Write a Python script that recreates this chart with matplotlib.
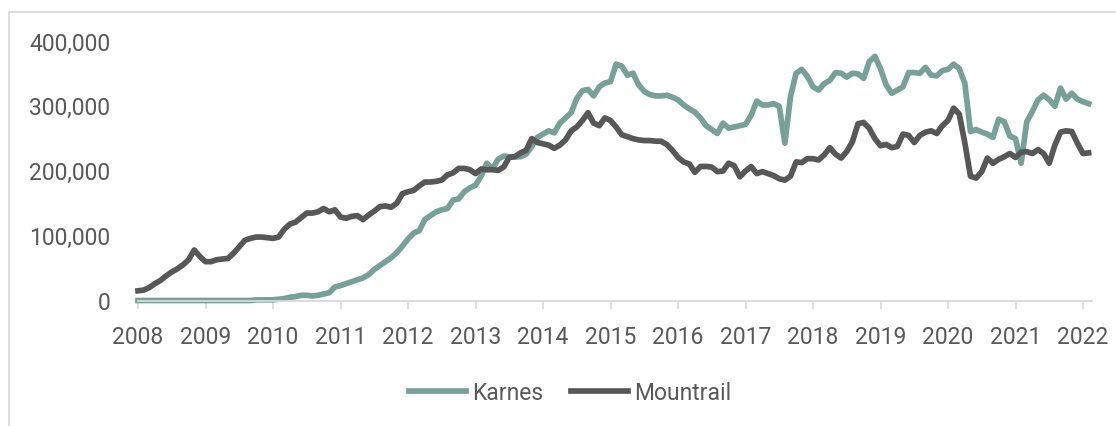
import numpy as np
import matplotlib
matplotlib.use("Agg")
import matplotlib.pyplot as plt
from matplotlib.patches import Rectangle
from matplotlib.ticker import FuncFormatter

plt.rcParams["font.family"] = ["Roboto", "DejaVu Sans"]

# monthly values, thousands of units, Jan 2008 .. Feb 2022
karnes = [
    0, 0, 0, 0, 0, 0, 0, 0, 0, 0, 0, 0,
    0, 0, 0, 0, 0, 0, 0, 0, 0, 1, 1, 1,
    1, 2, 3, 5, 6, 8, 8, 7, 8, 10, 12, 21,
    23, 26, 29, 32, 35, 40, 48, 54, 60, 66, 74, 84,
    95, 104, 108, 125, 131, 137, 140, 142, 155, 157, 168, 174,
    178, 192, 212, 203, 218, 223, 222, 222, 222, 226, 238, 252,
    257, 262, 259, 274, 282, 290, 312, 324, 326, 316, 330, 336,
    338, 365, 362, 348, 351, 333, 323, 318, 316, 316, 317, 314,
    310, 302, 296, 291, 282, 270, 264, 258, 274, 266, 268, 270,
    272, 286, 308, 302, 302, 304, 300, 243, 315, 351, 357, 346,
    330, 325, 335, 340, 352, 351, 345, 351, 350, 343, 369, 377,
    358, 333, 320, 325, 330, 352, 352, 351, 360, 348, 347, 355,
    357, 365, 358, 335, 261, 264, 260, 257, 252, 280, 276, 254,
    250, 212, 276, 292, 310, 317, 310, 300, 328, 311, 320, 311,
    307, 304,
]
mountrail = [
    15, 16, 20, 26, 31, 38, 44, 49, 55, 63, 78, 68,
    60, 60, 63, 64, 65, 73, 83, 93, 96, 98, 98, 97,
    96, 98, 110, 118, 121, 128, 135, 135, 137, 142, 137, 140,
    129, 127, 130, 131, 125, 132, 138, 145, 146, 144, 150, 165,
    168, 170, 177, 183, 183, 184, 186, 194, 197, 204, 204, 202,
    196, 203, 202, 202, 201, 206, 221, 222, 228, 232, 250, 244,
    242, 240, 235, 240, 248, 262, 268, 278, 290, 274, 270, 282,
    278, 268, 256, 253, 250, 248, 247, 247, 246, 246, 241, 232,
    221, 214, 211, 198, 207, 207, 206, 199, 200, 212, 208, 191,
    200, 207, 196, 199, 196, 193, 188, 186, 192, 214, 213, 219,
    219, 217, 225, 236, 226, 220, 230, 245, 273, 275, 266, 250,
    239, 241, 236, 238, 257, 255, 244, 255, 260, 262, 258, 270,
    278, 297, 288, 243, 192, 189, 199, 220, 212, 218, 222, 227,
    221, 229, 230, 227, 233, 227, 212, 240, 260, 262, 261, 243,
    227, 228,
]
years = list(range(2008, 2023))

months = np.arange(len(karnes))
karnes = np.array(karnes) * 1000
mountrail = np.array(mountrail) * 1000

fig = plt.figure(figsize=(11.16, 4.26), dpi=100)
W, H = 1116, 426
fig.patches.append(Rectangle((9 / W, -0.1), 1.2, (H - 12) / H + 0.1,
                             transform=fig.transFigure, fill=False,
                             edgecolor="#d9d9d9", linewidth=1.2))

ax = fig.add_axes([138 / W, (H - 300.5) / H, (1092 - 138) / W, 259 / H])
ax.plot(months, karnes, color="#76a098", lw=4.1, label="Karnes",
        solid_joinstyle="round", clip_on=False)
ax.plot(months, mountrail, color="#575757", lw=4.1, label="Mountrail",
        solid_joinstyle="round", clip_on=False)

ax.set_xlim(0, 169.6)
ax.set_ylim(0, 400000)
ax.set_xticks([12 * (y - 2008) for y in years])
ax.set_xticklabels([str(y) for y in years])
ax.set_yticks([0, 100000, 200000, 300000, 400000])
ax.yaxis.set_major_formatter(FuncFormatter(lambda v, p: f"{int(v):,}"))

for s in ["top", "right", "left"]:
    ax.spines[s].set_visible(False)
ax.spines["bottom"].set_color("#d9d9d9")
ax.spines["bottom"].set_linewidth(1.3)
ax.tick_params(axis="x", length=6, width=1.2, color="#d9d9d9", pad=12,
               labelsize=16.5, labelcolor="#595959")
ax.tick_params(axis="y", length=0, pad=20, labelsize=16.5, labelcolor="#595959")

ax.legend(loc="center", bbox_to_anchor=(570 / W, (H - 393) / H),
          bbox_transform=fig.transFigure, ncol=2, frameon=False,
          fontsize=16.5, labelcolor="#595959", handlelength=2.5,
          handletextpad=0.25, columnspacing=1.2)

fig.savefig("out.png", dpi=100)
